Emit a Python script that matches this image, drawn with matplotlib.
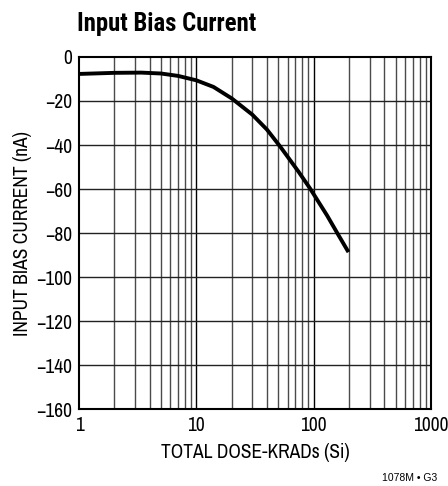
import matplotlib
matplotlib.use("Agg")
import matplotlib.pyplot as plt

plt.rcParams['font.family'] = ['Archivo Narrow', 'DejaVu Sans']

dose = [1, 2, 3.4, 5, 7, 10, 14, 20, 30, 40, 52, 74, 93, 130, 160, 198]
bias = [-7.7, -7.2, -7.1, -7.5, -8.6, -10.6, -13.6, -18.8, -26.2, -33.0, -40.8, -52.0,
        -59.7, -72.0, -80.3, -88.7]
xticks = [1, 10, 100, 1000]
yticks = [0, -20, -40, -60, -80, -100, -120, -140, -160]

fig = plt.figure(figsize=(4.48, 4.86), dpi=100)
ax = fig.add_axes([79/448, 77/486, 352/448, 352/486])
ax.set_xscale('log')
ax.set_xlim(1, 1000)
ax.set_ylim(-160, 0)

for d in range(3):
    for m in range(2, 10):
        ax.axvline(m * 10**d, color='#4a4a4a', lw=1.0, zorder=1)
for xt in xticks[1:-1]:
    ax.axvline(xt, color='black', lw=1.0, zorder=1)
for yt in yticks[1:-1]:
    ax.axhline(yt, color='#222222', lw=1.0, zorder=1)

ax.plot(dose, bias, color='black', lw=2.8, zorder=3, solid_capstyle='butt')

ax.set_xticks(xticks)
ax.set_xticklabels([str(x) for x in xticks])
ax.set_xticks([], minor=True)
ax.set_yticks(yticks)
ax.set_yticklabels([('\u2212' + str(-y)) if y < 0 else '0' for y in yticks])
ax.tick_params(length=0, labelsize=14, pad=5)
for s in ax.spines.values():
    s.set_linewidth(1.5)

ax.set_xlabel('TOTAL DOSE-KRADs (Si)', fontsize=14, labelpad=6)
ax.set_ylabel('INPUT BIAS CURRENT (nA)', fontsize=14, labelpad=3)
fig.text(77/448, 1 - 24/486, 'Input Bias Current', fontsize=17.8, fontweight='bold',
         family=['Roboto Condensed', 'DejaVu Sans'], ha='left', va='center')
fig.text(437/448, 1 - 478/486, '1078M \u2022 G3', fontsize=7.5,
         family=['Liberation Sans', 'DejaVu Sans'], ha='right', va='center')

fig.savefig('out.png', dpi=100)
